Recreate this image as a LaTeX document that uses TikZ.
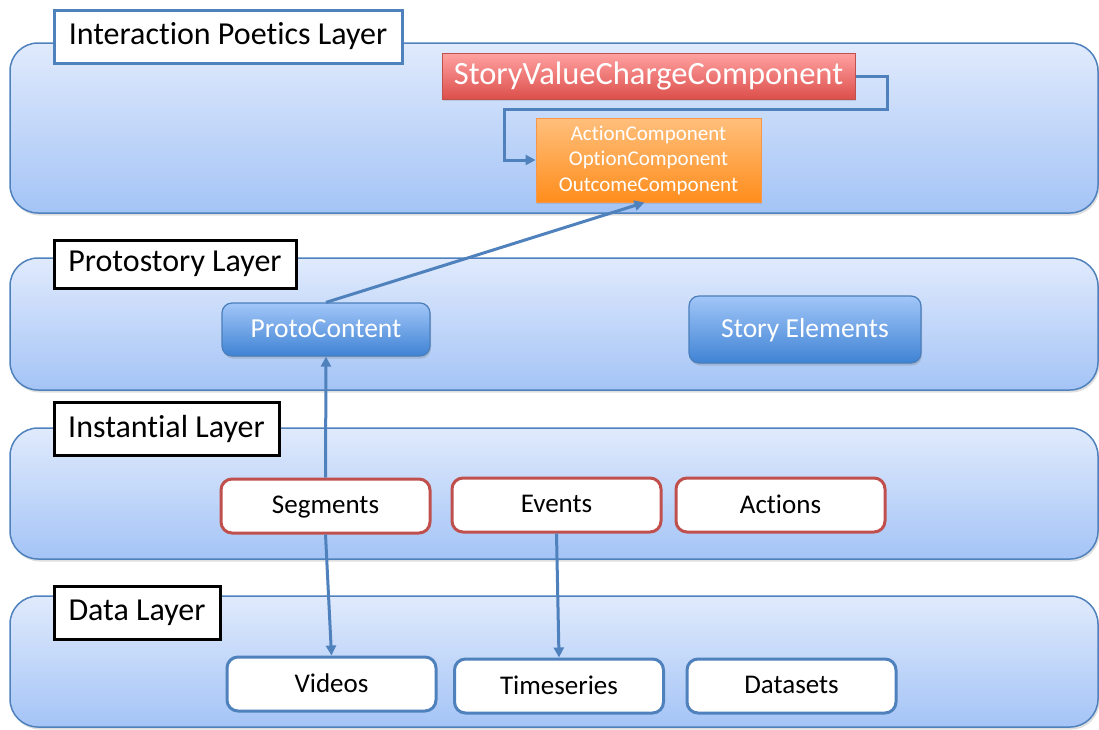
\documentclass[tikz,border=0pt]{standalone}
\usepackage{fontspec}
\setmainfont{Carlito}[Ligatures=NoCommon]
\usetikzlibrary{arrows.meta,shadows,calc}
\definecolor{lb}{HTML}{4F81BD}
\definecolor{laytop}{HTML}{E0EAFC}
\definecolor{laybot}{HTML}{A4C4F6}
\definecolor{redb}{HTML}{C0504D}
\definecolor{redtop}{HTML}{FFA2A2}
\definecolor{redbot}{HTML}{DC4F4B}
\definecolor{ortop}{HTML}{FFBF7C}
\definecolor{orbot}{HTML}{FF8D1C}
\definecolor{orb}{HTML}{F79646}
\definecolor{pctop}{HTML}{A2C6F8}
\definecolor{pcbot}{HTML}{3F83D4}
\definecolor{pcb}{HTML}{4A7EBB}
\definecolor{conn}{HTML}{4F81BD}
\begin{document}
\begin{tikzpicture}[x=1pt,y=-1pt,
  layer/.style={draw=lb, line width=1.5pt, rounded corners=28pt, top color=laytop, bottom color=laybot,
     drop shadow={opacity=0.25, shadow xshift=1.5pt, shadow yshift=-2.5pt}, inner sep=0pt},
  lbl/.style={fill=white, line width=3pt, inner sep=0pt, font=\fontsize{32}{36}\selectfont, text=black},
  svc/.style={draw=redb, line width=1pt, top color=redtop, bottom color=redbot, text=white, inner sep=0pt,
     font=\fontsize{32.5}{36}\selectfont, drop shadow={opacity=0.25, shadow xshift=1pt, shadow yshift=-2pt}},
  orng/.style={draw=orb, line width=1pt, top color=ortop, bottom color=orbot, text=white, inner sep=0pt,
     align=center, font=\fontsize{21}{25.5}\selectfont, drop shadow={opacity=0.25, shadow xshift=1pt, shadow yshift=-2pt}},
  pc/.style={draw=pcb, line width=1.2pt, rounded corners=10pt, top color=pctop, bottom color=pcbot, text=white,
     inner sep=0pt, text depth=0.22em, font=\fontsize{27.5}{32}\selectfont, drop shadow={opacity=0.3, shadow xshift=1pt, shadow yshift=-2.5pt}},
  inst/.style={draw=redb, line width=3pt, rounded corners=11pt, fill=white, inner sep=0pt, text depth=0.22em,
     minimum width=209pt, minimum height=54pt, font=\fontsize{27}{32}\selectfont},
  dat/.style={draw=lb, line width=3pt, rounded corners=11pt, fill=white, inner sep=0pt, text depth=0.22em,
     minimum width=209pt, minimum height=54pt, font=\fontsize{27}{32}\selectfont},
  cn/.style={draw=conn, line width=3pt},
  cna/.style={cn, -{Triangle[length=10pt,width=10pt]}}
]
\useasboundingbox (0,0) rectangle (1099,729);
% layers
\node[layer, minimum width=1088pt, minimum height=170pt] (Lint) at (554,128) {};
\node[layer, minimum width=1088pt, minimum height=132pt] (Lpro) at (554,324) {};
\node[layer, minimum width=1088pt, minimum height=131pt] (Lins) at (554,493.5) {};
\node[layer, minimum width=1088pt, minimum height=131pt] (Ldat) at (554,661.5) {};
% labels
\node[lbl, draw=lb, minimum width=348pt, minimum height=53pt] (tint) at (228,36.5) {Interaction Poetics Layer};
\node[lbl, draw=black, minimum width=242pt, minimum height=48pt] (tpro) at (175,264) {Protostory Layer};
\node[lbl, draw=black, minimum width=225pt, minimum height=53pt] (tins) at (166.5,428.5) {Instantial Layer};
\node[lbl, draw=black, minimum width=166pt, minimum height=53pt] (tdat) at (137,612.5) {Data Layer};
% interaction poetics nodes
\node[svc, minimum width=413pt, minimum height=46pt] (svcc) at (648.5,76) {StoryValueChargeComponent};
\node[orng, minimum width=225pt, minimum height=84pt] (comp) at (648.5,160) {ActionComponent\\OptionComponent\\OutcomeComponent};
% protostory nodes
\node[pc, minimum width=208pt, minimum height=53pt] (proto) at (326,329.5) {ProtoContent};
\node[pc, minimum width=232pt, minimum height=67pt] (story) at (805,329.5) {Story Elements};
% instantial nodes
\node[inst] (seg) at (325.5,506) {Segments};
\node[inst] (evt) at (556.5,505) {Events};
\node[inst] (act) at (780.5,505) {Actions};
% data nodes
\node[dat] (vid) at (331.5,684) {Videos};
\node[dat] (ts) at (559,686) {Timeseries};
\node[dat] (ds) at (791.5,686) {Datasets};
% connectors
\coordinate (c1) at (504,109);
\draw[cna] (svcc.east) -- ++(32,0) |- (c1) |- (comp.west);
\draw[cna] (proto.north) -- ($(comp.south)+(-4,0)$);
\draw[cna] (seg.north) -- (proto.south);
\draw[cna] (seg.south) -- (vid.north);
\draw[cna] (evt.south) -- (ts.north);
\end{tikzpicture}
\end{document}
